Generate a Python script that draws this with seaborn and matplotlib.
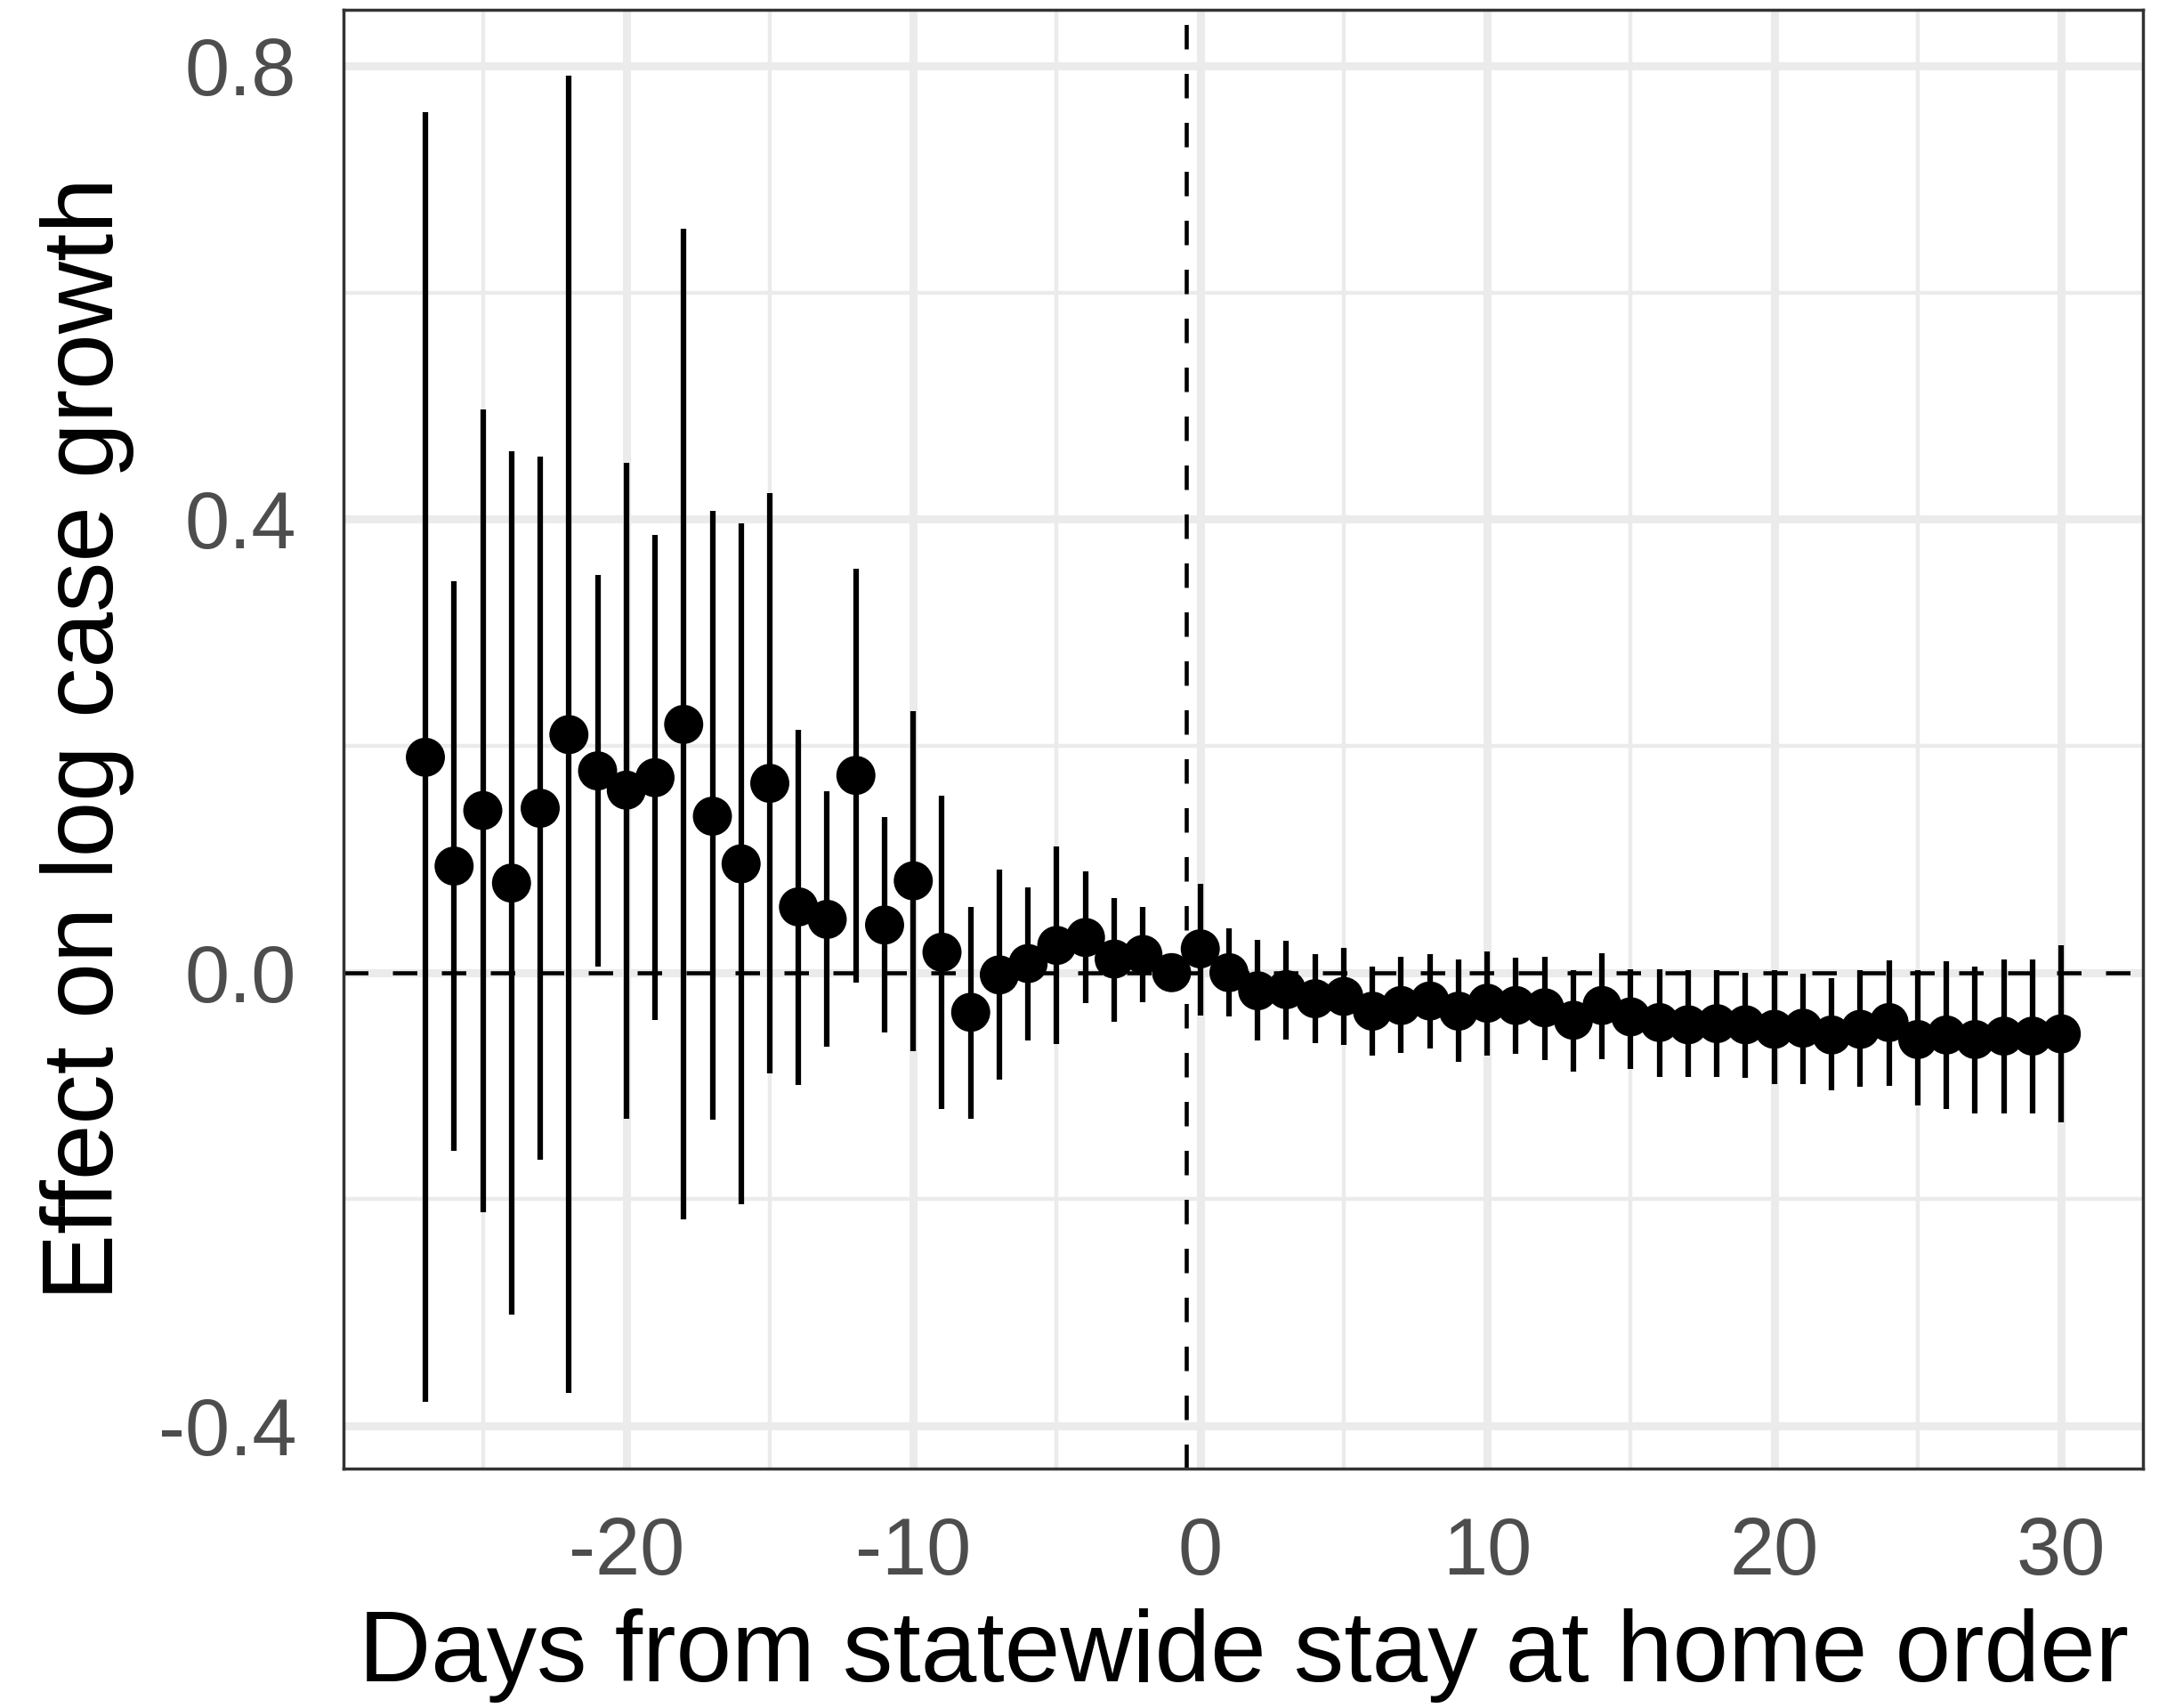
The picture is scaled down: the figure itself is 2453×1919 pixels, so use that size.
import numpy as np
import pandas as pd
import matplotlib
matplotlib.use("Agg")
import matplotlib.pyplot as plt
import seaborn as sns

# event-study estimates
days = list(range(-27, 31))
estimate = [0.190, 0.094, 0.143, 0.079, 0.145, 0.210, 0.178, 0.161, 0.172, 0.219,
            0.138, 0.096, 0.167, 0.058, 0.047, 0.174, 0.042, 0.081, 0.018, -0.035,
            -0.002, 0.008, 0.024, 0.031, 0.012, 0.016, 0.000, 0.021, 0.000, -0.016,
            -0.015, -0.023, -0.021, -0.034, -0.029, -0.025, -0.034, -0.027, -0.029, -0.031,
            -0.042, -0.029, -0.039, -0.044, -0.046, -0.045, -0.046, -0.050, -0.049, -0.055,
            -0.050, -0.044, -0.059, -0.055, -0.059, -0.056, -0.056, -0.054]
upper = [0.759, 0.345, 0.497, 0.460, 0.455, 0.791, 0.351, 0.450, 0.386, 0.656,
         0.407, 0.396, 0.423, 0.214, 0.160, 0.356, 0.137, 0.231, 0.156, 0.058,
         0.091, 0.075, 0.111, 0.089, 0.066, 0.058, np.nan, 0.078, 0.039, 0.029,
         0.028, 0.016, 0.022, 0.005, 0.014, 0.016, 0.012, 0.019, 0.013, 0.014,
         0.002, 0.017, 0.003, 0.003, 0.002, 0.002, 0.000, 0.002, -0.001, -0.005,
         0.002, 0.011, 0.002, 0.010, 0.005, 0.012, 0.012, 0.024]
lower = [-0.379, -0.157, -0.211, -0.302, -0.165, -0.371, 0.005, -0.129, -0.042, -0.218,
         -0.130, -0.204, -0.089, -0.099, -0.065, -0.009, -0.053, -0.069, -0.120, -0.129,
         -0.094, -0.060, -0.063, -0.027, -0.043, -0.026, np.nan, -0.038, -0.039, -0.060,
         -0.059, -0.062, -0.064, -0.073, -0.071, -0.067, -0.079, -0.073, -0.072, -0.077,
         -0.087, -0.076, -0.085, -0.092, -0.092, -0.092, -0.093, -0.098, -0.098, -0.104,
         -0.101, -0.100, -0.117, -0.120, -0.124, -0.124, -0.124, -0.132]

x_ticks = [-20, -10, 0, 10, 20, 30]
y_ticks = [-0.4, 0.0, 0.4, 0.8]
y_tick_labels = ["-0.4", "0.0", "0.4", "0.8"]

df = pd.DataFrame({"day": days, "est": estimate, "lo": lower, "hi": upper})

sns.set_theme(style="white")
plt.rcParams['font.family'] = ['Liberation Sans', 'DejaVu Sans']
plt.rcParams['axes.unicode_minus'] = False

fig = plt.figure(figsize=(24.53, 19.19), dpi=100)
ax = fig.add_axes([0.1574, 0.1402, 0.8243, 0.8541])

# grid (ggplot theme_bw look)
ax.set_axisbelow(True)
ax.set_xticks(x_ticks)
ax.set_xticks([-25, -15, -5, 5, 15, 25], minor=True)
ax.set_yticks(y_ticks)
ax.set_yticks([-0.2, 0.2, 0.6], minor=True)
ax.grid(which="major", color="#EBEBEB", linewidth=6.5)
ax.grid(which="minor", color="#EBEBEB", linewidth=3.2)

ax.axhline(0, color="black", linewidth=3.3, linestyle=(0, (6, 6)), zorder=1.5)
ax.axvline(-0.5, color="black", linewidth=3.3, linestyle=(0, (6, 6)), zorder=1.5)

ci = df.dropna()
ax.vlines(ci["day"], ci["lo"], ci["hi"], color="black", linewidth=4.5, zorder=2)
sns.scatterplot(data=df, x="day", y="est", ax=ax, color="black", s=1000,
                edgecolor="none", zorder=3, legend=False)

ax.set_xlim(-29.85, 32.85)
ax.set_ylim(-0.4375, 0.8495)
ax.set_yticklabels(y_tick_labels)

for side in ax.spines.values():
    side.set_color("#333333")
    side.set_linewidth(2.5)

ax.tick_params(axis="both", which="major", length=20, width=3.5, color="#333333",
               labelsize=65, labelcolor="#4D4D4D")
ax.tick_params(axis="x", pad=18)
ax.tick_params(axis="y", pad=18)
ax.tick_params(axis="both", which="minor", length=0)

ax.set_xlabel("Days from statewide stay at home order", fontsize=81, color="black", labelpad=14)
ax.set_ylabel("Effect on log case growth", fontsize=81, color="black", labelpad=19)

fig.savefig("out.png", dpi=100)
